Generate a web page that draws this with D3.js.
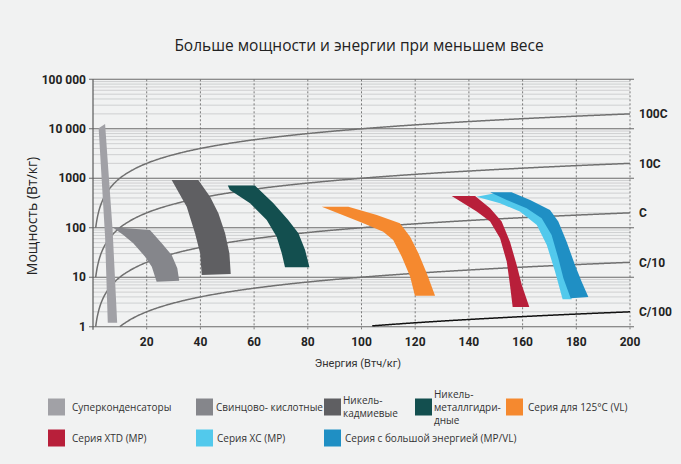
<!DOCTYPE html>
<html>
<head>
<meta charset="utf-8">
<script src="https://cdn.jsdelivr.net/npm/d3@7"></script>
<style>
  html, body { margin: 0; padding: 0; background: #f1f2f2; }
  svg { display: block; }
  .tick_lbl { font-family: Roboto, sans-serif; font-weight: 700; font-size: 12px; fill: #222; }
  .leg_txt { font-family: "Open Sans", sans-serif; font-size: 10px; fill: #333; }
</style>
</head>
<body>
<div id="chart"></div>
<script>
// axis ticks
const energy_ticks = [20, 40, 60, 80, 100, 120, 140, 160, 180, 200];
const power_ticks = [1, 10, 100, 1000, 10000, 100000];
const power_labels = ["1", "10", "100", "1000", "10 000", "100 000"];

// discharge rate lines (P = rate * E)
const rates = [100, 10, 1, 0.1, 0.01];
const rate_labels = ["100C", "10C", "C", "C/10", "C/100"];
const rate_start = [1, 1, 1, 10, 104];

// technology areas, [energy Wh/kg, power W/kg] outline points
const supercap = [[2.1, 10300], [4.5, 12500], [7.3, 90], [9.0, 1.2], [5.5, 1.2], [4.5, 66]];
const lead_acid = [[7.3, 102], [21.2, 90], [25.6, 48.6], [29.3, 28.2], [31.4, 15.2], [32.1, 8.5],
  [23.7, 8.1], [21.9, 16.3], [19.4, 26], [15.0, 48.6], [11.3, 71.5]];
const ni_cd = [[29.3, 926], [39.2, 926], [43.6, 425], [46.7, 196], [49.2, 77.4], [50.8, 30.5], [51.3, 11.6],
  [40.5, 11.1], [39.9, 30.5], [38.0, 77.4], [34.9, 267]];
const ni_mh = [[50.2, 710], [60.3, 710], [67.2, 313], [72.7, 144], [76.5, 77], [79.0, 35.6], [80.6, 15.9],
  [71.5, 15.9], [70.3, 30.5], [68.4, 66], [64.7, 144], [58.5, 313], [51.0, 581]];
const vl_125 = [[85.2, 267], [95.1, 267], [105.7, 181], [114.3, 123], [118.1, 66], [121.2, 30.5], [124.3, 12], [127.4, 4.2],
  [119.9, 4.2], [118.1, 10.3], [115.0, 26], [111.8, 56.7], [108.1, 83.4], [100.7, 123]];
const xtd = [[133.6, 440], [142.3, 440], [147.9, 248], [152.2, 133], [155.3, 52], [157.8, 17.7], [159.7, 7.0], [162.5, 2.5],
  [156.3, 2.5], [155.3, 7.0], [154.1, 20.6], [151.6, 61], [147.9, 133], [142.9, 212]];
const xc = [[142.9, 425], [151.6, 313], [159.0, 212], [165.3, 114], [169.0, 45], [172.1, 12.9], [174.9, 3.6],
  [178.3, 3.6], [175.8, 14], [173.9, 45], [170.2, 114], [164.6, 229], [157.2, 365], [149.7, 500]];
const high_energy = [[147.9, 522], [155.9, 522], [162.8, 365], [170.2, 229], [173.3, 133], [176.4, 52], [179.5, 17.7], [182.0, 8.1], [184.5, 4.0],
  [177.9, 3.75], [175.2, 9.5], [173.3, 24.2], [170.8, 71.5], [167.1, 156], [161.5, 248], [154.1, 365]];

const areas = [supercap, lead_acid, ni_cd, ni_mh, vl_125, xc, high_energy, xtd];
const area_colors = ["#a1a1a6", "#85868b", "#5f5f62", "#134f4f", "#f5892f", "#52c9ec", "#1f8fc4", "#b81f3a"];

// legend
const legend_labels = [
  ["Суперконденсаторы"], ["Свинцово- кислотные"], ["Никель-", "кадмиевые"], ["Никель-", "металлгидри-", "дные"], ["Серия для 125°C (VL)"],
  ["Серия XTD (MP)"], ["Серия XC (MP)"], ["Серия с большой энергией (MP/VL)"]
];
const legend_colors = ["#a1a1a6", "#85868b", "#5f5f62", "#134f4f", "#f5892f", "#b81f3a", "#52c9ec", "#1f8fc4"];

const W = 681, H = 464;
const svg = d3.select("#chart").append("svg")
  .attr("width", W).attr("height", H)
  .attr("viewBox", `0 0 ${W} ${H}`);

const x = d3.scaleLinear().domain([0, 200]).range([93, 630]);
const y = d3.scaleLog().domain([1, 100000]).range([326.7, 79.3]);

// title
svg.append("text")
  .attr("x", 359).attr("y", 51)
  .attr("text-anchor", "middle")
  .style("font-family", "'Open Sans', sans-serif")
  .style("font-size", "15.5px")
  .style("fill", "#222")
  .text("Больше мощности и энергии при меньшем весе");

const grid = svg.append("g");

// minor log lines
const minor = [];
for (let d = 1; d < 100000; d *= 10) {
  for (let k = 2; k <= 9; k++) minor.push(d * k);
}
grid.selectAll(".minor").data(minor).enter().append("line")
  .attr("x1", x(0)).attr("x2", x(200))
  .attr("y1", d => y(d)).attr("y2", d => y(d))
  .attr("stroke", "#cbcccd").attr("stroke-width", 0.9);

// vertical dashed lines
grid.selectAll(".vgrid").data(energy_ticks).enter().append("line")
  .attr("x1", d => x(d)).attr("x2", d => x(d))
  .attr("y1", y(100000)).attr("y2", y(1) + 4)
  .attr("stroke", "#7a7a7a").attr("stroke-width", 1)
  .attr("stroke-dasharray", "2,2");

// decade lines
grid.selectAll(".major").data(power_ticks).enter().append("line")
  .attr("x1", x(0) - 4).attr("x2", x(200) + 4)
  .attr("y1", d => y(d)).attr("y2", d => y(d))
  .attr("stroke", "#6a6a6a").attr("stroke-width", 1.1);

// left axis
grid.append("line")
  .attr("x1", x(0)).attr("x2", x(0))
  .attr("y1", y(100000)).attr("y2", y(1) + 3)
  .attr("stroke", "#5a5a5a").attr("stroke-width", 1.2);

// rate lines
const line = d3.line().x(d => x(d[0])).y(d => y(d[1])).curve(d3.curveMonotoneX);
rates.forEach((r, i) => {
  const pts = [];
  for (let e = rate_start[i]; e <= 200; e += 0.5) pts.push([e, r * e]);
  svg.append("path")
    .attr("d", line(pts))
    .attr("fill", "none")
    .attr("stroke", i === 4 ? "#111" : "#707070")
    .attr("stroke-width", 1.5);
  svg.append("text")
    .attr("class", "tick_lbl")
    .attr("x", 639).attr("y", y(r * 200))
    .attr("dy", "0.35em")
    .text(rate_labels[i]);
});

// technology areas
const area_line = d3.line().x(d => x(d[0])).y(d => y(d[1])).curve(d3.curveLinearClosed);
svg.selectAll(".area").data(areas).enter().append("path")
  .attr("d", d => area_line(d))
  .attr("fill", (d, i) => area_colors[i]);

// tick labels
svg.selectAll(".ylbl").data(power_ticks).enter().append("text")
  .attr("class", "tick_lbl")
  .attr("x", 86).attr("y", d => y(d))
  .attr("dy", "0.35em")
  .attr("text-anchor", "end")
  .text((d, i) => power_labels[i]);

svg.selectAll(".xlbl").data(energy_ticks).enter().append("text")
  .attr("class", "tick_lbl")
  .attr("x", d => x(d)).attr("y", 346)
  .attr("text-anchor", "middle")
  .text(d => d);

// axis titles
svg.append("text")
  .attr("x", 358).attr("y", 367)
  .attr("text-anchor", "middle")
  .style("font-family", "Roboto, sans-serif")
  .style("font-size", "11px")
  .style("fill", "#333")
  .text("Энергия (Втч/кг)");

svg.append("text")
  .attr("transform", "translate(37,216) rotate(-90)")
  .attr("text-anchor", "middle")
  .style("font-family", "'Open Sans', sans-serif")
  .style("font-size", "14px")
  .style("fill", "#222")
  .text("Мощность (Вт/кг)");

// legend
const leg_x = [48, 196, 324, 415, 506, 48, 196, 324];
const leg_y = [407, 407, 407, 407, 407, 438, 438, 438];
const leg_dx = [24, 20, 19, 19, 22, 24, 21, 21];
const leg = svg.selectAll(".leg").data(legend_labels).enter().append("g")
  .attr("transform", (d, i) => `translate(${leg_x[i]},${leg_y[i]})`);
leg.append("rect")
  .attr("x", 0).attr("y", -8.5)
  .attr("width", 17).attr("height", 17)
  .attr("fill", (d, i) => legend_colors[i]);
leg.each(function (d, i) {
  const t = d3.select(this).append("text")
    .attr("class", "leg_txt");
  d.forEach((s, j) => {
    t.append("tspan")
      .attr("x", leg_dx[i])
      .attr("y", (j - (d.length - 1) / 2) * 13)
      .attr("dy", "0.35em")
      .text(s);
  });
});
</script>
</body>
</html>
